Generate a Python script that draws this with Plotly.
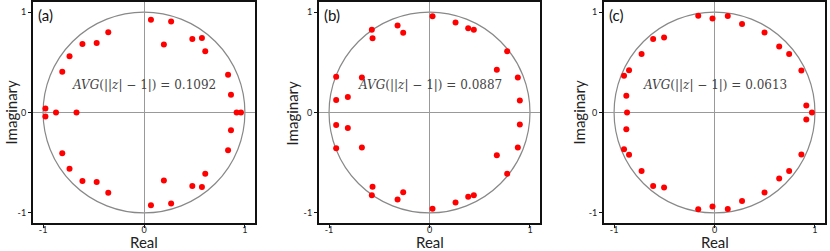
import plotly.graph_objects as go

# Panel (a): roots (upper half-plane + real), conjugates mirrored
a_re_upper = [0.069, 0.269, 0.197, 0.479, 0.574, 0.607, 0.833, 0.862,
              -0.354, -0.469, -0.610, -0.738, -0.810, -0.977]
a_im_upper = [0.923, 0.906, 0.676, 0.732, 0.742, 0.609, 0.375, 0.177,
              0.799, 0.692, 0.682, 0.559, 0.405, 0.040]
a_real_roots = [0.918, 0.961, -0.872, -0.669]

b_re_upper = [0.030, 0.259, 0.385, 0.441, 0.773, 0.670, 0.879, 0.899,
              -0.318, -0.262, -0.574, -0.567, -0.673, -0.929, -0.929, -0.813]
b_im_upper = [0.957, 0.896, 0.839, 0.823, 0.609, 0.425, 0.348, 0.120,
              0.866, 0.793, 0.823, 0.739, 0.348, 0.355, 0.124, 0.154]
b_real_roots = []

c_re_upper = [-0.162, -0.020, 0.132, 0.274, 0.498, 0.644, 0.743, 0.865, 0.914,
              -0.502, -0.611, -0.726, -0.851, -0.901, -0.878]
c_im_upper = [0.963, 0.936, 0.960, 0.880, 0.796, 0.656, 0.582, 0.418, 0.070,
              0.746, 0.732, 0.582, 0.421, 0.365, 0.167]
c_real_roots = [0.970, -0.871]

panel_labels = ["(a)", "(b)", "(c)"]
avg_values = ["0.1092", "0.0887", "0.0613"]
tick_vals = [-1, 0, 1]
tick_text = ["-1", "0", "1"]
x_title = "Real"
y_title = "Imaginary"

panels = [
    (a_re_upper, a_im_upper, a_real_roots),
    (b_re_upper, b_im_upper, b_real_roots),
    (c_re_upper, c_im_upper, c_real_roots),
]
domains = [[0.0, 0.2803], [0.3611, 0.6402], [0.7210, 1.0]]
ytitle_shift = [-23, -27, -26]

fig = go.Figure()
layout = {}
shapes = []
annotations = []
font_sans = "Lato, 'Noto Sans', sans-serif"

for i, ((re_u, im_u, reals), dom) in enumerate(zip(panels, domains)):
    n = "" if i == 0 else str(i + 1)
    xs = list(re_u) + list(re_u) + list(reals)
    ys = list(im_u) + [-v for v in im_u] + [0.0] * len(reals)
    fig.add_trace(go.Scatter(
        x=xs, y=ys, mode="markers",
        marker=dict(color="#ff0000", size=6),
        xaxis="x" + n, yaxis="y" + n, showlegend=False, hoverinfo="x+y"))
    axcommon = dict(
        range=[-1.1, 1.1], showgrid=False, zeroline=True,
        zerolinecolor="#999999", zerolinewidth=1,
        showline=True, linecolor="#111111", linewidth=2, mirror=True,
        ticks="outside", ticklen=3, tickcolor="#111111", tickwidth=1,
        tickvals=tick_vals, ticktext=tick_text,
        tickfont=dict(size=9, color="#222222", family=font_sans),
        automargin=False, fixedrange=True)
    layout["xaxis" + n] = dict(axcommon, domain=dom, anchor="y" + n,
                               ticklabelstandoff=-6)
    layout["yaxis" + n] = dict(axcommon, domain=[0, 1], anchor="x" + n)
    shapes.append(dict(type="circle", xref="x" + n, yref="y" + n,
                       x0=-1, y0=-1, x1=1, y1=1,
                       line=dict(color="#888888", width=1.2), layer="below"))
    annotations.append(dict(
        xref="x" + n, yref="y" + n, x=-1.07, y=1.08, xanchor="left", yanchor="top",
        text=panel_labels[i], showarrow=False,
        font=dict(size=15, color="#111111", family=font_sans)))
    annotations.append(dict(
        xref="x" + n, yref="y" + n, x=0.0, y=0.27, xanchor="center", yanchor="middle",
        text="<i>AVG</i>(||<i>z</i>| − 1|) = " + avg_values[i], showarrow=False,
        font=dict(size=12, color="#444444", family="'DejaVu Serif', serif")))
    annotations.append(dict(
        xref="paper", yref="paper", x=(dom[0] + dom[1]) / 2, y=0,
        xanchor="center", yanchor="middle", yshift=-19,
        text=x_title, showarrow=False,
        font=dict(size=15, color="#222222", family=font_sans)))
    annotations.append(dict(
        xref="paper", yref="paper", x=dom[0], y=0.5,
        xanchor="center", yanchor="middle", xshift=ytitle_shift[i], textangle=-90,
        text=y_title, showarrow=False,
        font=dict(size=15, color="#222222", family=font_sans)))

fig.update_layout(
    **layout,
    shapes=shapes,
    annotations=annotations,
    width=830, height=251,
    margin=dict(l=33, r=5, t=2, b=28, autoexpand=False),
    paper_bgcolor="white", plot_bgcolor="white",
)

fig.write_html("out.html",
               config={"displayModeBar": False},
               post_script="document.body.style.margin='0';document.body.style.overflow='hidden';")
